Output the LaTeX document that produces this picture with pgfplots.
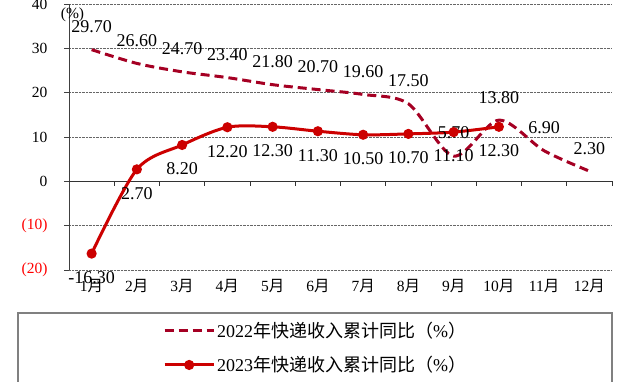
\documentclass[border=0pt]{standalone}
\usepackage{pgfplots}
\pgfplotsset{compat=1.18}
\usepackage{fontspec}
\setmainfont{Liberation Serif}
\newfontfamily\cjk{Noto Sans CJK SC}
\definecolor{c22}{RGB}{165,0,35}
\definecolor{c23}{RGB}{204,0,0}
\begin{document}
\begin{tikzpicture}
\useasboundingbox (-69pt,-112pt) rectangle (553pt,270pt);
\begin{axis}[
  at={(0,0)}, anchor=south west,
  scale only axis, width=543pt, height=266pt,
  xmin=0.5, xmax=12.5, ymin=-20, ymax=40,
  xtick={1,...,12},
  xticklabels={1{\cjk 月},2{\cjk 月},3{\cjk 月},4{\cjk 月},5{\cjk 月},6{\cjk 月},7{\cjk 月},8{\cjk 月},9{\cjk 月},10{\cjk 月},11{\cjk 月},12{\cjk 月}},
  ytick={-20,-10,0,10,20,30,40},
  yticklabels={{\color{red}(20)},{\color{red}(10)},0,10,20,30,40},
  axis y line*=left, axis x line*=bottom,
  x axis line style={draw=none},
  xtick style={draw=none},
  y axis line style={black!75, line width=0.8pt},
  ytick style={black!75, line width=0.8pt},
  major tick length=5pt, tick align=outside,
  ymajorgrids,
  grid style={densely dotted, black!60, line width=0.7pt},
  /pgf/number format/assume math mode=true,
  tick label style={font=\fontsize{15.5}{18}\selectfont},
  yticklabel style={xshift=-13pt},
  xticklabel style={yshift=-1pt},
  clip=false,
  legend image code/.code={\draw[mark repeat=2,mark phase=2,#1] plot coordinates {(0pt,0pt) (24.5pt,0pt) (49pt,0pt)};},
  legend style={at={(0.1731,-0.2914)}, anchor=west, draw=none, fill=none, inner sep=0pt,
    font=\fontsize{18}{21}\selectfont, row sep=14pt, cells={anchor=west}},
]
\draw[black!80, line width=0.8pt] (axis cs:0.5,0) -- (axis cs:12.5,0);
\pgfplotsinvokeforeach{1.5,2.5,3.5,4.5,5.5,6.5,7.5,8.5,9.5,10.5,11.5,12.5}{
  \draw[black!80, line width=0.8pt] (axis cs:#1,0) -- ++(0pt,-5pt);
}
\addplot[c22, line width=3pt, dash pattern=on 9pt off 5pt, smooth, no markers,
  point meta=explicit symbolic,
  nodes near coords, nodes near coords style={anchor=south, yshift=12pt, text=black, font=\fontsize{18}{21}\selectfont}]
coordinates {
 (1,29.7) [29.70]
 (2,26.6) [26.60]
 (3,24.7) [24.70]
 (4,23.4) [23.40]
 (5,21.8) [21.80]
 (6,20.7) [20.70]
 (7,19.6) [19.60]
 (8,17.5) [17.50]
 (9,5.7) [5.70]
 (10,13.8) [13.80]
 (11,6.9) [6.90]
 (12,2.3) [2.30]
};
\addlegendentry{2022{\cjk 年快递收入累计同比（}\%{\cjk ）}}
\addplot[c23, line width=3pt, smooth, mark=*, mark size=3.5pt, mark options={solid},
  point meta=explicit symbolic,
  nodes near coords, nodes near coords style={anchor=north, yshift=-13pt, text=black, font=\fontsize{18}{21}\selectfont}]
coordinates {
 (1,-16.3) [-16.30]
 (2,2.7) [2.70]
 (3,8.2) [8.20]
 (4,12.2) [12.20]
 (5,12.3) [12.30]
 (6,11.3) [11.30]
 (7,10.5) [10.50]
 (8,10.7) [10.70]
 (9,11.1) [11.10]
 (10,12.3) [12.30]
};
\addlegendentry{2023{\cjk 年快递收入累计同比（}\%{\cjk ）}}
\node[font=\fontsize{15.5}{18}\selectfont] at (rel axis cs:0.0065,0.959) {(\%)};
\end{axis}
\draw[black!50, line width=1.2pt] (-51pt,-43pt) rectangle (543pt,-150pt);
\end{tikzpicture}
\end{document}
